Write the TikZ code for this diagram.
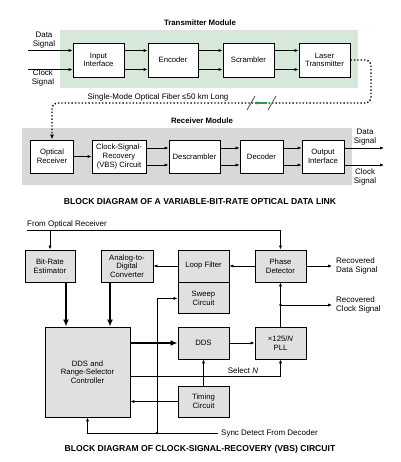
\documentclass[tikz,border=0pt]{standalone}
\usepackage{fontspec}
\setmainfont{Liberation Sans}
\usetikzlibrary{arrows.meta,calc}
\definecolor{txgreen}{RGB}{214,232,218}
\definecolor{rxgray}{RGB}{216,216,216}
\definecolor{bxgray}{RGB}{224,224,224}
\definecolor{fibgreen}{RGB}{50,150,80}
\tikzset{
  blk/.style={draw, line width=0.9pt, fill=white, align=center, inner sep=0pt,
    font=\fontsize{7.7}{8.6}\selectfont},
  gblk/.style={blk, fill=bxgray},
  lbl/.style={align=center, inner sep=0pt, font=\fontsize{8}{9}\selectfont},
  ttl/.style={inner sep=0pt, font=\fontsize{7.8}{9}\selectfont\bfseries},
  captxt/.style={inner sep=0pt, font=\fontsize{8.6}{10}\selectfont\bfseries},
  arr/.style={line width=0.7pt, -{Latex[length=4pt,width=3.2pt]}},
  thk/.style={line width=2pt, -{Latex[length=7pt,width=6pt]}},
  ln/.style={line width=0.7pt},
}
\begin{document}
\begin{tikzpicture}[x=1pt,y=-1pt]
\useasboundingbox (0,0) rectangle (400,462);
% ---------- transmitter ----------
\fill[txgreen] (60,30) rectangle (358,88);
\node[ttl] (ttx) at (200,23) {Transmitter Module};
\node[blk, minimum width=51pt, minimum height=34pt] (in) at (98.5,60) {Input\\Interface};
\node[blk, minimum width=50pt, minimum height=34pt] (enc) at (173,60) {Encoder};
\node[blk, minimum width=51pt, minimum height=34pt] (scr) at (248.5,60) {Scrambler};
\node[blk, minimum width=51pt, minimum height=34pt] (las) at (324.5,60) {Laser\\Transmitter};
\node[lbl] (dsl) at (44,40) {Data\\Signal};
\node[lbl] (csl) at (43,78) {Clock\\Signal};
\coordinate (dsin) at (28,50.5);
\coordinate (csin) at (28,69.5);
\draw[arr] (dsin) -- (dsin -| in.west);
\draw[arr] (csin) -- (csin -| in.west);
\foreach \a/\b in {in/enc, enc/scr, scr/las}{
  \draw[arr] ([yshift=9.5pt]\a.east) -- ([yshift=9.5pt]\b.west);
  \draw[arr] ([yshift=-9.5pt]\a.east) -- ([yshift=-9.5pt]\b.west);
}
% ---------- fiber ----------
\node[lbl] (fib) at (158,97) {Single-Mode Optical Fiber ≤50 km Long};
% ---------- receiver ----------
\fill[rxgray] (22,128) rectangle (352,185);
\node[ttl] (trx) at (202,121) {Receiver Module};
\node[blk, minimum width=43pt, minimum height=33pt] (opt) at (52,156.5) {Optical\\Receiver};
\node[blk, minimum width=54pt, minimum height=33pt] (csr) at (119,156.5) {Clock-Signal-\\Recovery\\(VBS) Circuit};
\node[blk, minimum width=51pt, minimum height=33pt] (des) at (194.5,156.5) {Descrambler};
\node[blk, minimum width=43pt, minimum height=33pt] (dec) at (261.5,156.5) {Decoder};
\node[blk, minimum width=42pt, minimum height=33pt] (out) at (323,156.5) {Output\\Interface};
\draw[arr] (opt) -- (csr);
\foreach \a/\b in {csr/des, des/dec, dec/out}{
  \draw[arr] ([yshift=8.5pt]\a.east) -- ([yshift=8.5pt]\b.west);
  \draw[arr] ([yshift=-8.5pt]\a.east) -- ([yshift=-8.5pt]\b.west);
}
\coordinate (dsout) at (384,148);
\coordinate (csout) at (384,165);
\draw[arr] ([yshift=8.5pt]out.east) -- (dsout);
\draw[arr] ([yshift=-8.5pt]out.east) -- (csout);
\node[lbl] (dsl2) at (365,137) {Data\\Signal};
\node[lbl] (csl2) at (365,177) {Clock\\Signal};
\node[captxt] (cap1) at (200,202) {BLOCK DIAGRAM OF A VARIABLE-BIT-RATE OPTICAL DATA LINK};
% fiber path
\coordinate (fa) at (371,60);
\coordinate (fb) at (371,103);
\coordinate (fc) at (52,103);
\draw[line width=1.4pt, dotted, rounded corners=5pt, -{Latex[length=5pt,width=4pt]}]
  (las.east) -- (fa) -- (fb) -- (fc) -- (opt.north);
\coordinate (ga) at (267,103);
\coordinate (gb) at (254,103);
\draw[fibgreen, line width=1.3pt, -{Latex[length=4pt,width=3.5pt]}] (ga) -- (gb);
\draw[line width=0.8pt, black!70] (247,110) -- (255,96);
\draw[line width=0.8pt, black!70] (268,110) -- (276,96);
% ---------- VBS circuit ----------
\node[lbl, anchor=west] (for) at (27,224) {From Optical Receiver};
\node[gblk, minimum width=50pt, minimum height=32pt] (bre) at (50,266) {Bit-Rate\\Estimator};
\node[gblk, minimum width=52pt, minimum height=32pt] (adc) at (127,266) {Analog-to-\\Digital\\Converter};
\node[gblk, minimum width=51pt, minimum height=32pt] (lf) at (203.5,266) {Loop Filter};
\node[gblk, minimum width=51pt, minimum height=31pt, anchor=north] (sw) at (lf.south) {Sweep\\Circuit};
\node[gblk, minimum width=51pt, minimum height=32pt] (pd) at (280.5,266) {Phase\\Detector};
\node[gblk, minimum width=51pt, minimum height=32pt] (pll) at (280.5,343) {×125/\textit{N}\\PLL};
\node[gblk, minimum width=51pt, minimum height=32pt] (dds) at (203.5,343) {DDS};
\node[gblk, minimum width=85pt, minimum height=90pt] (ctl) at (87.5,372) {DDS and\\Range-Selector\\Controller};
\node[gblk, minimum width=51pt, minimum height=31pt] (tim) at (203.5,401.5) {Timing\\Circuit};
% from optical receiver line
\coordinate (fl0) at (27,230);
\coordinate (fl1) at (280.5,230);
\draw[ln] (fl0) -- (fl1);
\draw[arr] (fl1) -- (pd.north);
\draw[arr] (fl0 -| bre.north) -- (bre.north);
% PD / LF / ADC
\draw[arr] (pd) -- (lf);
\draw[arr] (lf) -- (adc);
\coordinate (rds) at (332,266);
\draw[arr] (pd.east) -- (rds);
\node[lbl, anchor=west, align=left] (rdl) at (336,266) {Recovered\\Data Signal};
% PLL -> PD, clock tap
\draw[arr] (pll.north) -- (pd.south);
\coordinate (ctap) at (280.5,305);
\coordinate (rcs) at (332,305);
\fill (ctap) circle (1.3pt);
\draw[arr] (ctap) -- (rcs);
\node[lbl, anchor=west, align=left] (rcl) at (336,305) {Recovered\\Clock Signal};
% thick arrows
\draw[thk] ([xshift=16pt]bre.south) -- ([xshift=16pt]bre.south |- ctl.north);
\draw[thk] ([xshift=-17pt]adc.south) -- ([xshift=-17pt]adc.south |- ctl.north);
\draw[thk] (ctl.east |- dds.west) -- (dds.west);
% DDS -> PLL
\draw[arr] (dds) -- (pll);
% Select N
\draw[arr] ([yshift=-4pt]ctl.east) -| (pll.south);
\node[lbl] (seln) at (243,371) {Select \textit{N}};
% timing
\draw[arr] (tim.north) -- (dds.south);
\draw[arr] (tim.west) -- (tim.west -| ctl.east);
% sweep input and sync detect
\coordinate (sj) at (157,433);
\coordinate (sy) at (218,433);
\draw[arr] (sj) |- (sw.west);
\fill (sj) circle (1.3pt);
\draw[arr] (sy) -| (ctl.south);
\node[lbl, anchor=west] (syl) at (221,433) {Sync Detect From Decoder};
\node[captxt] (cap2) at (200,449) {BLOCK DIAGRAM OF CLOCK-SIGNAL-RECOVERY (VBS) CIRCUIT};
\end{tikzpicture}
\end{document}
